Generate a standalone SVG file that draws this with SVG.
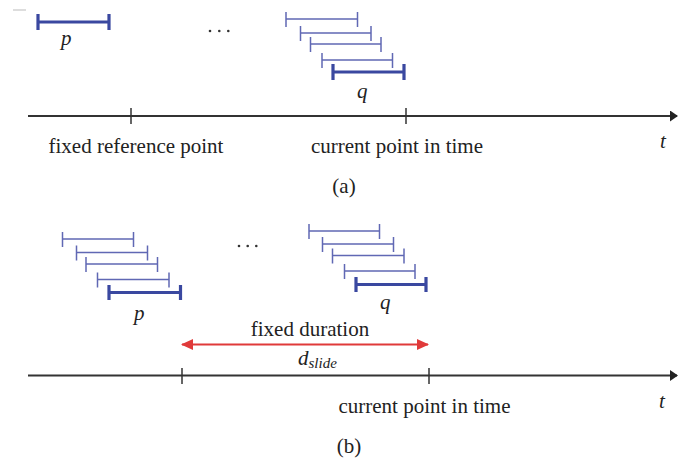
<svg xmlns="http://www.w3.org/2000/svg" width="678" height="462" viewBox="0 0 678 462">
<style>
.lbl{font-family:"Liberation Serif","DejaVu Serif",serif;font-size:21px;fill:#222}
.it{font-family:"Liberation Serif","DejaVu Serif",serif;font-style:italic;font-size:21px;fill:#222}
.thin{stroke:#6068b4;stroke-width:1.5;fill:none}
.thick{stroke:#3a48a0;stroke-width:3.2;fill:none}
.axis{stroke:#333;stroke-width:2;fill:none}
.tick{stroke:#333;stroke-width:1.5}
.red{stroke:#e03a3a;stroke-width:2.2;fill:none}
.dot{fill:#333}
</style>
<defs>
<marker id="ax" markerWidth="8" markerHeight="11" refX="7" refY="5.5" orient="auto" markerUnits="userSpaceOnUse">
<path d="M0,0 L8,5.5 L0,11 Z" fill="#222"/>
</marker>
<marker id="rh" markerWidth="12" markerHeight="11" refX="11" refY="5.5" orient="auto-start-reverse" markerUnits="userSpaceOnUse">
<path d="M0,0 L12,5.5 L0,11 Z" fill="#e03a3a"/>
</marker>
</defs>

<g id="panel-a">
<line x1="13" y1="10" x2="26" y2="10" stroke="#bbb" stroke-width="1"/>
<g id="p-a">
<path class="thick" d="M38,22 H109 M38,14 V30 M109,14 V30"/>
<text class="it" x="61" y="45">p</text>
</g>
<g id="dots-a">
<circle class="dot" cx="210" cy="31" r="1.3"/>
<circle class="dot" cx="219.3" cy="31" r="1.3"/>
<circle class="dot" cx="228.3" cy="31" r="1.3"/>
</g>
<g id="q-a">
<path class="thin" d="M286,19 H357.5 M286,12 V27 M357.5,12 V27"/>
<path class="thin" d="M300.5,33 H371 M300.5,26 V41 M371,26 V41"/>
<path class="thin" d="M310.5,44 H381 M310.5,37 V52 M381,37 V52"/>
<path class="thin" d="M322,60 H392.5 M322,53 V68 M392.5,53 V68"/>
<path class="thick" d="M333,72 H404 M333,64 V80 M404,64 V80"/>
<text class="it" x="357" y="98">q</text>
</g>
<g id="axis-a">
<line class="axis" x1="28" y1="116" x2="677" y2="116" marker-end="url(#ax)"/>
<line class="tick" x1="131" y1="108" x2="131" y2="124"/>
<line class="tick" x1="406" y1="108" x2="406" y2="124"/>
</g>
<text class="lbl" x="136" y="153" text-anchor="middle">fixed reference point</text>
<text class="lbl" x="397" y="153" text-anchor="middle">current point in time</text>
<text class="it" x="660" y="148">t</text>
<text class="lbl" x="344" y="193" text-anchor="middle">(a)</text>
</g>

<g id="panel-b">
<g id="p-b">
<path class="thin" d="M62.5,239 H133.5 M62.5,232 V247 M133.5,232 V247"/>
<path class="thin" d="M76.5,252.5 H147.5 M76.5,245.5 V260.5 M147.5,245.5 V260.5"/>
<path class="thin" d="M86,264 H157.5 M86,257 V272 M157.5,257 V272"/>
<path class="thin" d="M97.5,279.5 H169 M97.5,272.5 V287.5 M169,272.5 V287.5"/>
<path class="thick" d="M109,292.5 H180.5 M109,285 V300 M180.5,285 V300"/>
<text class="it" x="134" y="320">p</text>
</g>
<g id="dots-b">
<circle class="dot" cx="239" cy="246" r="1.3"/>
<circle class="dot" cx="247.7" cy="246" r="1.3"/>
<circle class="dot" cx="256.3" cy="246" r="1.3"/>
</g>
<g id="q-b">
<path class="thin" d="M309,231 H379.5 M309,224 V239 M379.5,224 V239"/>
<path class="thin" d="M322.5,244 H393.5 M322.5,237 V252 M393.5,237 V252"/>
<path class="thin" d="M332.5,255.5 H404 M332.5,248.5 V263.5 M404,248.5 V263.5"/>
<path class="thin" d="M344.5,271 H415 M344.5,264 V279 M415,264 V279"/>
<path class="thick" d="M356,284.5 H426 M356,277 V292 M426,277 V292"/>
<text class="it" x="380" y="309">q</text>
</g>
<g id="duration">
<line class="red" x1="182" y1="344.5" x2="428" y2="344.5" marker-start="url(#rh)" marker-end="url(#rh)"/>
<text class="lbl" x="310" y="335.5" text-anchor="middle">fixed duration</text>
<text class="it" x="298" y="365">d<tspan font-size="15" dy="3">slide</tspan></text>
</g>
<g id="axis-b">
<line class="axis" x1="28" y1="375.5" x2="677" y2="375.5" stroke="#555" marker-end="url(#ax)"/>
<line class="tick" x1="182" y1="368" x2="182" y2="384"/>
<line class="tick" x1="429" y1="368" x2="429" y2="384"/>
</g>
<text class="lbl" x="424.5" y="413" text-anchor="middle">current point in time</text>
<text class="it" x="659" y="408">t</text>
<text class="lbl" x="349" y="453" text-anchor="middle">(b)</text>
</g>
</svg>
